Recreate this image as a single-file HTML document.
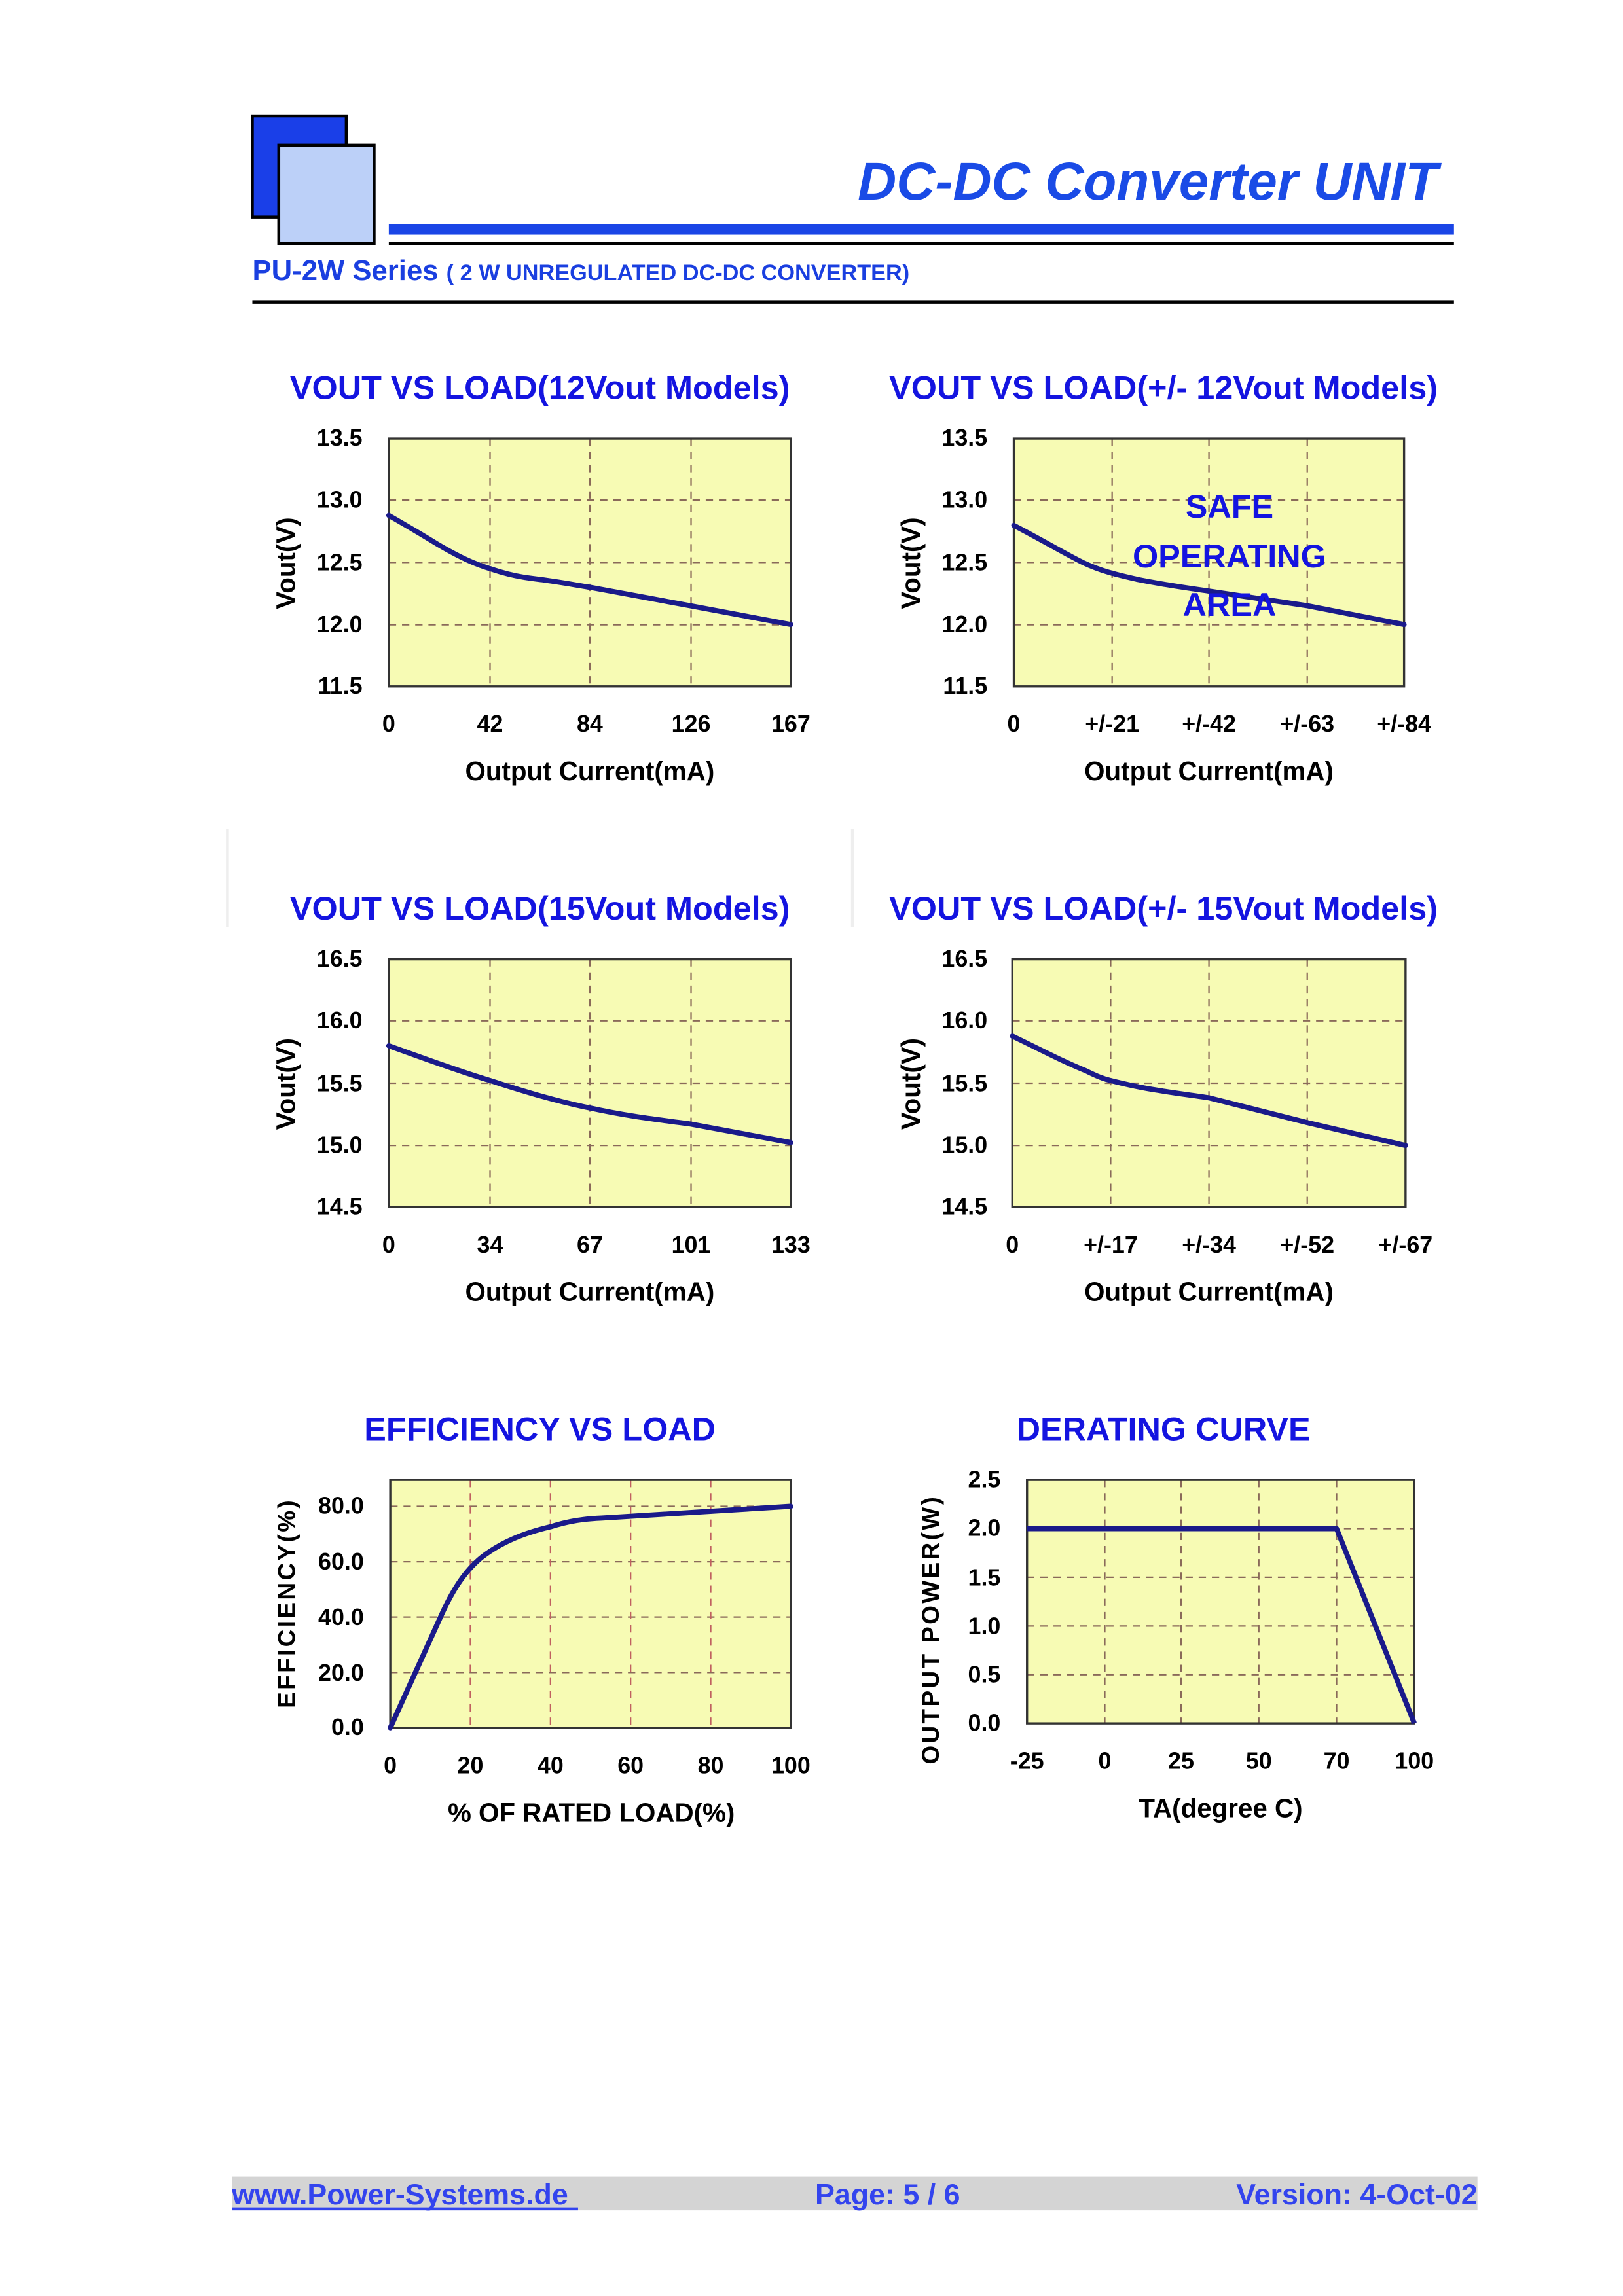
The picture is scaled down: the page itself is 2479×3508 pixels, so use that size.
<!DOCTYPE html>
<html><head><meta charset="utf-8"><style>
html,body{margin:0;padding:0;background:#fff}
svg{display:block}
text{font-family:"Liberation Sans",Arial,sans-serif;font-weight:bold}
</style></head><body>
<svg width="2479" height="3508" viewBox="0 0 1106.2 1565.4" xmlns="http://www.w3.org/2000/svg">
<rect x="0" y="0" width="1106.2" height="1565.4" fill="#fff"/>
<!-- header -->
<rect x="172" y="79" width="64" height="69" fill="#1a3fe8" stroke="#000" stroke-width="2"/>
<rect x="190" y="99" width="65" height="67" fill="#bcd0f8" stroke="#000" stroke-width="2"/>
<text x="980" y="136" text-anchor="end" font-size="36.5" font-style="italic" fill="#1a4be6">DC-DC Converter UNIT</text>
<rect x="265" y="153" width="726" height="7" fill="#1a45e6"/>
<rect x="265" y="165" width="726" height="2" fill="#000"/>
<text x="172" y="191" font-size="19.5" fill="#1a3fe0">PU-2W Series <tspan font-size="15.3">( 2 W UNREGULATED DC-DC CONVERTER)</tspan></text>
<rect x="172" y="205" width="819" height="2" fill="#000"/>
<line x1="155" y1="565" x2="155" y2="632" stroke="#eee" stroke-width="2"/>
<line x1="581" y1="565" x2="581" y2="632" stroke="#eee" stroke-width="2"/>

<g stroke-width="1" fill="none">
<!-- chart 1 -->
<rect x="265" y="299" width="274" height="169" fill="#f7fbb4"/>
<g stroke="#8a6a5a" stroke-dasharray="5,4">
<line x1="265" y1="341" x2="539" y2="341"/><line x1="265" y1="383.5" x2="539" y2="383.5"/><line x1="265" y1="426" x2="539" y2="426"/>
<line x1="334" y1="299" x2="334" y2="468"/><line x1="402" y1="299" x2="402" y2="468"/><line x1="471" y1="299" x2="471" y2="468"/>
</g>
<rect x="265" y="299" width="274" height="169" stroke="#333" stroke-width="1.5"/>
<path d="M265,351.4 C280,360 290,366 297.8,370.8 C315,381 325,385 334,387.7 C345,391.5 355,393.5 363.5,394.5 C380,396.5 390,398.5 402,400.4 L471,413.1 L539,425.8" stroke="#1a1a8a" stroke-width="3.5" stroke-linecap="round"/>

<!-- chart 2 -->
<rect x="691" y="299" width="266" height="169" fill="#f7fbb4"/>
<g stroke="#8a6a5a" stroke-dasharray="5,4">
<line x1="691" y1="341" x2="957" y2="341"/><line x1="691" y1="383.5" x2="957" y2="383.5"/><line x1="691" y1="426" x2="957" y2="426"/>
<line x1="758" y1="299" x2="758" y2="468"/><line x1="824" y1="299" x2="824" y2="468"/><line x1="891" y1="299" x2="891" y2="468"/>
</g>
<rect x="691" y="299" width="266" height="169" stroke="#333" stroke-width="1.5"/>
<path d="M691,358.2 C710,368 725,377 738,383.5 C752,390 762,392 775,395 C795,399 810,401 824,403 L891,413 L957,425.8" stroke="#1a1a8a" stroke-width="3.5" stroke-linecap="round"/>

<!-- chart 3 -->
<rect x="265" y="654" width="274" height="169" fill="#f7fbb4"/>
<g stroke="#8a6a5a" stroke-dasharray="5,4">
<line x1="265" y1="696" x2="539" y2="696"/><line x1="265" y1="738.5" x2="539" y2="738.5"/><line x1="265" y1="781" x2="539" y2="781"/>
<line x1="334" y1="654" x2="334" y2="823"/><line x1="402" y1="654" x2="402" y2="823"/><line x1="471" y1="654" x2="471" y2="823"/>
</g>
<rect x="265" y="654" width="274" height="169" stroke="#333" stroke-width="1.5"/>
<path d="M265,713 C290,722 315,731 334,736.7 C360,745 380,751 402,755.4 C430,761.5 450,763.5 471,766.4 L539,779" stroke="#1a1a8a" stroke-width="3.5" stroke-linecap="round"/>

<!-- chart 4 -->
<rect x="690" y="654" width="268" height="169" fill="#f7fbb4"/>
<g stroke="#8a6a5a" stroke-dasharray="5,4">
<line x1="690" y1="696" x2="958" y2="696"/><line x1="690" y1="738.5" x2="958" y2="738.5"/><line x1="690" y1="781" x2="958" y2="781"/>
<line x1="757" y1="654" x2="757" y2="823"/><line x1="824" y1="654" x2="824" y2="823"/><line x1="891" y1="654" x2="891" y2="823"/>
</g>
<rect x="690" y="654" width="268" height="169" stroke="#333" stroke-width="1.5"/>
<path d="M690,706.4 C710,716 725,724 740,730 C748,734 752,735.5 757,736.7 C770,740 780,742 790,743.5 C805,746 815,747 824,748.5 L891,765.4 L958,781" stroke="#1a1a8a" stroke-width="3.5" stroke-linecap="round"/>

<!-- efficiency -->
<rect x="266" y="1009" width="273" height="169" fill="#f7fbb4"/>
<g stroke="#8a6a5a" stroke-dasharray="5,4">
<line x1="266" y1="1140.3" x2="539" y2="1140.3"/><line x1="266" y1="1102.5" x2="539" y2="1102.5"/><line x1="266" y1="1064.8" x2="539" y2="1064.8"/><line x1="266" y1="1027" x2="539" y2="1027"/>
</g>
<g stroke="#c06060" stroke-dasharray="5,4">
<line x1="320.6" y1="1009" x2="320.6" y2="1178"/><line x1="375.2" y1="1009" x2="375.2" y2="1178"/><line x1="429.8" y1="1009" x2="429.8" y2="1178"/><line x1="484.4" y1="1009" x2="484.4" y2="1178"/>
</g>
<rect x="266" y="1009" width="273" height="169" stroke="#333" stroke-width="1.5"/>
<path d="M266,1178 L300,1103 C308,1085 316,1072 328,1062 C342,1051 358,1045 375,1041 C388,1037 398,1035.5 410,1035 L539,1027" stroke="#1a1a8a" stroke-width="3.5" stroke-linecap="round" stroke-linejoin="round"/>

<!-- derating -->
<rect x="700" y="1009" width="264" height="166" fill="#f7fbb4"/>
<g stroke="#8a6a5a" stroke-dasharray="5,4">
<line x1="700" y1="1042.2" x2="964" y2="1042.2"/><line x1="700" y1="1075.4" x2="964" y2="1075.4"/><line x1="700" y1="1108.6" x2="964" y2="1108.6"/><line x1="700" y1="1141.8" x2="964" y2="1141.8"/>
</g>
<g stroke="#8a6a5a" stroke-dasharray="5,4">
<line x1="753" y1="1009" x2="753" y2="1175"/><line x1="805" y1="1009" x2="805" y2="1175"/><line x1="858" y1="1009" x2="858" y2="1175"/><line x1="911" y1="1009" x2="911" y2="1175"/>
</g>
<rect x="700" y="1009" width="264" height="166" stroke="#333" stroke-width="1.5"/>
<path d="M700,1042.2 L911,1042.2 L964,1175" stroke="#1a1a8a" stroke-width="3.5" stroke-linejoin="round"/>
</g>

<!-- titles -->
<g fill="#1414e0" font-size="22.5" text-anchor="middle">
<text x="368" y="272">VOUT VS LOAD(12Vout Models)</text>
<text x="793" y="272">VOUT VS LOAD(+/- 12Vout Models)</text>
<text x="368" y="627">VOUT VS LOAD(15Vout Models)</text>
<text x="793" y="627">VOUT VS LOAD(+/- 15Vout Models)</text>
<text x="368" y="982">EFFICIENCY VS LOAD</text>
<text x="793" y="982">DERATING CURVE</text>
<text x="838" y="353">SAFE</text>
<text x="838" y="387">OPERATING</text>
<text x="838" y="420">AREA</text>
</g>

<!-- tick labels -->
<g fill="#000" font-size="16" text-anchor="end">
<text x="247" y="304">13.5</text><text x="247" y="346">13.0</text><text x="247" y="389">12.5</text><text x="247" y="431">12.0</text><text x="247" y="473">11.5</text>
<text x="673" y="304">13.5</text><text x="673" y="346">13.0</text><text x="673" y="389">12.5</text><text x="673" y="431">12.0</text><text x="673" y="473">11.5</text>
<text x="247" y="659">16.5</text><text x="247" y="701">16.0</text><text x="247" y="744">15.5</text><text x="247" y="786">15.0</text><text x="247" y="828">14.5</text>
<text x="673" y="659">16.5</text><text x="673" y="701">16.0</text><text x="673" y="744">15.5</text><text x="673" y="786">15.0</text><text x="673" y="828">14.5</text>
<text x="248" y="1032">80.0</text><text x="248" y="1070">60.0</text><text x="248" y="1108">40.0</text><text x="248" y="1146">20.0</text><text x="248" y="1183">0.0</text>
<text x="682" y="1014">2.5</text><text x="682" y="1047">2.0</text><text x="682" y="1081">1.5</text><text x="682" y="1114">1.0</text><text x="682" y="1147">0.5</text><text x="682" y="1180">0.0</text>
</g>
<g fill="#000" font-size="16" text-anchor="middle">
<text x="265" y="499">0</text><text x="334" y="499">42</text><text x="402" y="499">84</text><text x="471" y="499">126</text><text x="539" y="499">167</text>
<text x="691" y="499">0</text><text x="758" y="499">+/-21</text><text x="824" y="499">+/-42</text><text x="891" y="499">+/-63</text><text x="957" y="499">+/-84</text>
<text x="265" y="854">0</text><text x="334" y="854">34</text><text x="402" y="854">67</text><text x="471" y="854">101</text><text x="539" y="854">133</text>
<text x="690" y="854">0</text><text x="757" y="854">+/-17</text><text x="824" y="854">+/-34</text><text x="891" y="854">+/-52</text><text x="958" y="854">+/-67</text>
<text x="266" y="1209">0</text><text x="320.6" y="1209">20</text><text x="375.2" y="1209">40</text><text x="429.8" y="1209">60</text><text x="484.4" y="1209">80</text><text x="539" y="1209">100</text>
<text x="700" y="1206">-25</text><text x="753" y="1206">0</text><text x="805" y="1206">25</text><text x="858" y="1206">50</text><text x="911" y="1206">70</text><text x="964" y="1206">100</text>
</g>
<!-- axis labels -->
<g fill="#000" font-size="18" text-anchor="middle">
<text x="402" y="532">Output Current(mA)</text>
<text x="824" y="532">Output Current(mA)</text>
<text x="402" y="887">Output Current(mA)</text>
<text x="824" y="887">Output Current(mA)</text>
<text x="403" y="1242">% OF RATED LOAD(%)</text>
<text x="832" y="1239">TA(degree C)</text>
<text transform="translate(201,384) rotate(-90)">Vout(V)</text>
<text transform="translate(627,384) rotate(-90)">Vout(V)</text>
<text transform="translate(201,739) rotate(-90)">Vout(V)</text>
<text transform="translate(627,739) rotate(-90)">Vout(V)</text>
<text transform="translate(201,1093) rotate(-90)" font-size="16.5" letter-spacing="1.5">EFFICIENCY(%)</text>
<text transform="translate(640,1111) rotate(-90)" font-size="16.5" letter-spacing="1.5">OUTPUT POWER(W)</text>
</g>

<!-- footer -->
<rect x="158" y="1484" width="849" height="23" fill="#d4d4d4"/>
<g fill="#3344ee" font-size="20">
<text x="158" y="1503">www.Power-Systems.de</text>
<rect x="158" y="1505" width="236" height="2" fill="#3344ee"/>
<text x="605" y="1503" text-anchor="middle">Page: 5 / 6</text>
<text x="1007" y="1503" text-anchor="end">Version: 4-Oct-02</text>
</g>
</svg>
</body></html>
